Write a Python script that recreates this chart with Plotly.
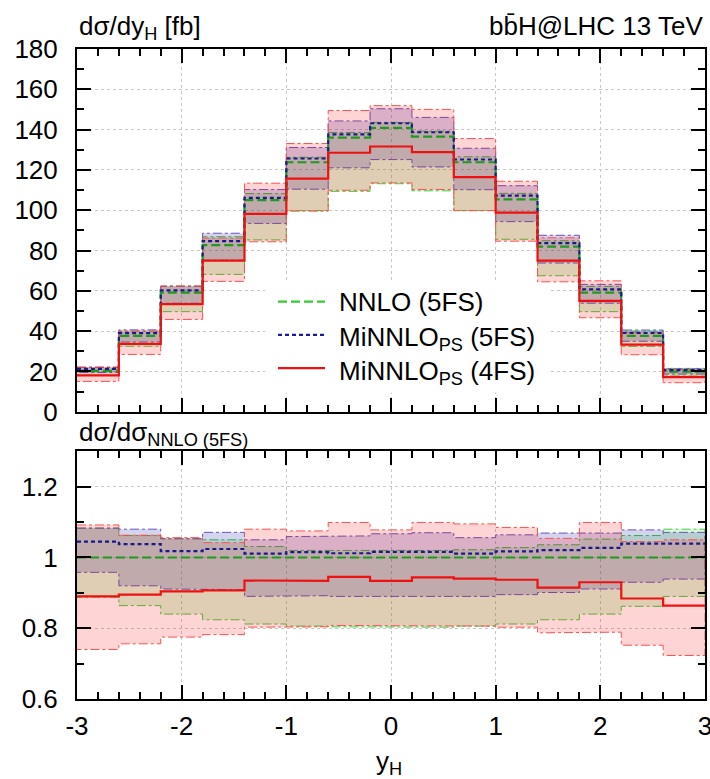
import plotly.graph_objects as go

# ---------------- data ----------------
y_edges = [-3.0, -2.6, -2.2, -1.8, -1.4, -1.0, -0.6, -0.2, 0.2, 0.6, 1.0, 1.4, 1.8, 2.2, 2.6, 3.0]
x_tick_vals = [-3, -2, -1, 0, 1, 2, 3]
x_tick_text = ["-3", "-2", "-1", "0", "1", "2", "3"]

# NNLO (5FS) central value, top panel [fb]
nnlo_central = [20.3, 37.6, 59.1, 82.7, 105.0, 123.8, 136.0, 140.9, 136.5, 123.8, 105.4, 81.9, 59.1, 37.6, 19.9]

# ratios to NNLO (5FS)
nnlo_ratio_lo = [0.888, 0.864, 0.840, 0.824, 0.812, 0.806, 0.804, 0.803, 0.803, 0.806, 0.812, 0.824, 0.840, 0.862, 0.890]
nnlo_ratio_hi = [1.083, 1.062, 1.053, 1.050, 1.031, 1.020, 1.019, 1.019, 1.020, 1.022, 1.028, 1.036, 1.052, 1.062, 1.080]

mi5_ratio = [1.045, 1.038, 1.018, 1.024, 1.011, 1.015, 1.012, 1.016, 1.016, 1.011, 1.017, 1.021, 1.027, 1.039, 1.039]
mi5_ratio_lo = [0.958, 0.920, 0.911, 0.909, 0.890, 0.892, 0.890, 0.888, 0.890, 0.890, 0.895, 0.901, 0.911, 0.930, 0.939]
mi5_ratio_hi = [1.083, 1.080, 1.053, 1.071, 1.050, 1.059, 1.061, 1.067, 1.070, 1.056, 1.064, 1.069, 1.069, 1.078, 1.071]

mi4_ratio = [0.890, 0.895, 0.904, 0.907, 0.935, 0.934, 0.945, 0.934, 0.944, 0.940, 0.937, 0.915, 0.930, 0.884, 0.864]
mi4_ratio_lo = [0.740, 0.756, 0.775, 0.782, 0.803, 0.804, 0.808, 0.806, 0.808, 0.806, 0.803, 0.787, 0.789, 0.752, 0.723]
mi4_ratio_hi = [1.092, 1.063, 1.056, 1.042, 1.080, 1.075, 1.099, 1.078, 1.099, 1.095, 1.085, 1.054, 1.099, 1.045, 1.050]

series_names = ["NNLO (5FS)", "MiNNLO<sub>PS</sub> (5FS)", "MiNNLO<sub>PS</sub> (4FS)"]

# ---------------- helpers ----------------
def steps(vals):
    xs, ys = [], []
    for i, v in enumerate(vals):
        xs += [y_edges[i], y_edges[i + 1]]
        ys += [v, v]
    return xs, ys

def band(lo, hi):
    xh, yh = steps(hi)
    xl, yl = steps(lo)
    return xh + xl[::-1], yh + yl[::-1]

def scale(r):
    return [a * b for a, b in zip(nnlo_central, r)]

nnlo_ratio = [v / v for v in nnlo_central]

ratio_sets = [
    (nnlo_ratio, nnlo_ratio_lo, nnlo_ratio_hi),
    (mi5_ratio, mi5_ratio_lo, mi5_ratio_hi),
    (mi4_ratio, mi4_ratio_lo, mi4_ratio_hi),
]

fill_cols = ["rgba(0,200,0,0.15)", "rgba(0,0,160,0.17)", "rgba(255,0,0,0.17)"]
edge_cols = ["#44cc44", "#6655bb", "#ff5050"]
line_cols = ["#1f9a1f", "#1a1a8a", "#ee1111"]
line_dash = ["9px,4px", "4px,3px", "solid"]
legend_cols = ["#33cc33", "#1a1a9a", "#ee1111"]

fig = go.Figure()

# bands
for panel, (xa, ya) in enumerate([("x", "y"), ("x2", "y2")]):
    for k, (c, lo, hi) in enumerate(ratio_sets):
        if panel == 0:
            lo_v, hi_v = scale(lo), scale(hi)
        else:
            lo_v, hi_v = lo, hi
        bx, by = band(lo_v, hi_v)
        fig.add_trace(go.Scatter(
            x=bx, y=by, xaxis=xa, yaxis=ya, mode="lines", fill="toself",
            fillcolor=fill_cols[k], line=dict(color=edge_cols[k], width=1, dash="dashdot"),
            showlegend=False, hoverinfo="skip"))

# central lines
for panel, (xa, ya) in enumerate([("x", "y"), ("x2", "y2")]):
    for k, (c, lo, hi) in enumerate(ratio_sets):
        vals = scale(c) if panel == 0 else c
        sx, sy = steps(vals)
        fig.add_trace(go.Scatter(
            x=sx, y=sy, xaxis=xa, yaxis=ya, mode="lines",
            line=dict(color=line_cols[k], width=2.2, dash=line_dash[k]),
            name=series_names[k], showlegend=False, hoverinfo="skip"))

axis_common = dict(
    showline=True, linewidth=2, linecolor="black", mirror="ticks",
    ticks="inside", ticklen=14, tickwidth=2, tickcolor="black",
    showgrid=True, gridcolor="#c8c8c8", griddash="dot", gridwidth=1,
    zeroline=False, automargin=False,
)

# ---------- legend drawn in paper space (pixel -> paper helpers) ----------
PL, PR, PT, PB = 77.0, 705.0, 49.0, 699.3
def px(xpix):
    return (xpix - PL) / (PR - PL)
def py(ypix):
    return (PB - ypix) / (PB - PT)

shapes = [dict(type="rect", xref="paper", yref="paper",
               x0=px(265), x1=px(548), y0=py(393), y1=py(283),
               fillcolor="white", line=dict(width=0), layer="above")]
annotations = []
legend_rows = [301.7, 335.0, 368.3]
for k in range(3):
    shapes.append(dict(type="line", xref="paper", yref="paper",
                       x0=px(278), x1=px(325), y0=py(legend_rows[k]), y1=py(legend_rows[k]),
                       line=dict(color=legend_cols[k], width=2.2, dash=line_dash[k]), layer="above"))
    annotations.append(dict(text=series_names[k], xref="paper", yref="paper",
                            x=px(337), y=py(legend_rows[k] - (0 if k == 0 else -4)),
                            xanchor="left", yanchor="middle", showarrow=False,
                            font=dict(size=26)))

annotations += [
    dict(text="dσ/dy<sub>H</sub> [fb]", xref="paper", yref="paper", x=0, y=1.033,
         xanchor="left", yanchor="middle", showarrow=False),
    dict(text="bb\u0304H@LHC 13 TeV", xref="paper", yref="paper", x=1, y=1.035,
         xanchor="right", yanchor="middle", showarrow=False),
    dict(text="dσ/dσ<sub>NNLO (5FS)</sub>", xref="paper", yref="paper", x=0, y=0.408,
         xanchor="left", yanchor="middle", showarrow=False),
    dict(text="y<sub>H</sub>", xref="paper", yref="paper", x=0.497, y=-0.098,
         xanchor="center", yanchor="middle", showarrow=False),
]

fig.update_layout(
    width=710, height=779,
    margin=dict(l=77, r=5, t=49, b=80, autoexpand=False),
    plot_bgcolor="white", paper_bgcolor="white",
    font=dict(family="Liberation Sans, Arial, sans-serif", size=26, color="black"),
    showlegend=False,
    xaxis=dict(domain=[0, 1], range=[-3, 3], anchor="y", showticklabels=False,
               tickvals=x_tick_vals,
               minor=dict(dtick=0.2, tick0=-3, ticks="inside", ticklen=7, tickwidth=2, tickcolor="black", showgrid=False),
               **axis_common),
    yaxis=dict(domain=[0.442, 1], range=[0, 180], anchor="x", dtick=20, tick0=0,
               ticklabelstandoff=12,
               minor=dict(dtick=10, tick0=0, ticks="inside", ticklen=7, tickwidth=2, tickcolor="black", showgrid=False),
               **axis_common),
    xaxis2=dict(domain=[0, 1], range=[-3, 3], anchor="y2",
                tickvals=x_tick_vals, ticktext=x_tick_text,
                ticklabelstandoff=3, ticklabeloverflow="allow",
                minor=dict(dtick=0.2, tick0=-3, ticks="inside", ticklen=7, tickwidth=2, tickcolor="black", showgrid=False),
                **axis_common),
    yaxis2=dict(domain=[0, 0.381], range=[0.6, 1.3], anchor="x2", dtick=0.2, tick0=0.6,
                ticklabelstandoff=12,
                minor=dict(dtick=0.1, tick0=0.6, ticks="inside", ticklen=7, tickwidth=2, tickcolor="black", showgrid=False),
                **axis_common),
    shapes=shapes,
    annotations=annotations,
)

fig.write_html("out.html")
